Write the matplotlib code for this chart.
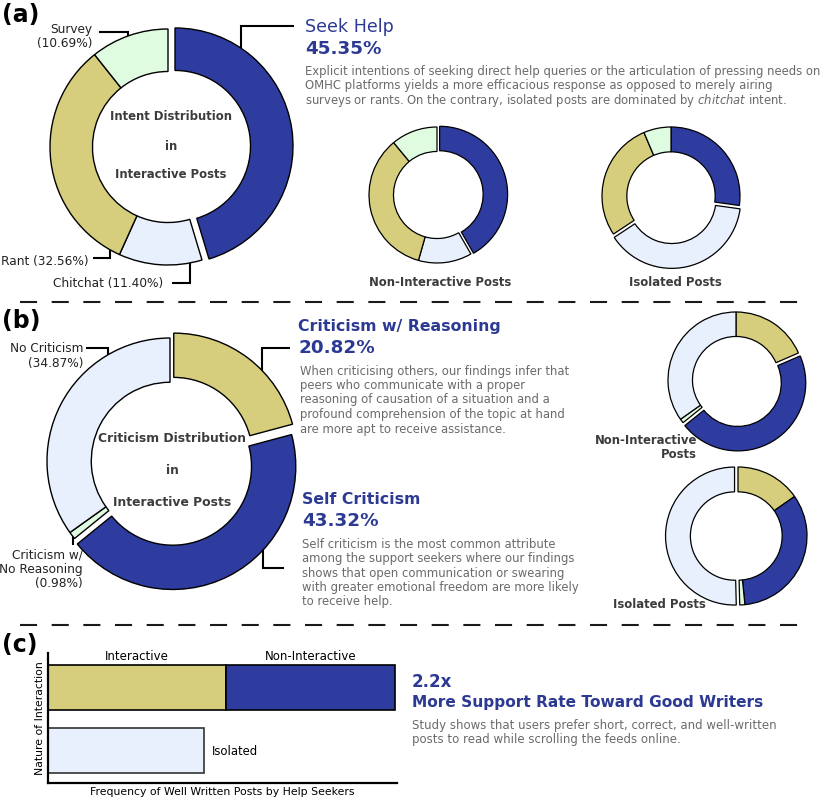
import matplotlib
matplotlib.use('Agg')
import matplotlib.pyplot as plt

W, H = 830, 801

# (a) intent distribution, clockwise from the top
intent_labels = ['Seek Help', 'Chitchat', 'Rant', 'Survey']
intent_interactive = [45.35, 11.40, 32.56, 10.69]
intent_non_interactive = [41.7, 12.7, 34.6, 11.0]
intent_isolated = [27.2, 38.5, 27.9, 6.4]

# (b) criticism distribution, clockwise from the top
crit_labels = ['Criticism w/ Reasoning', 'Self Criticism', 'Criticism w/ No Reasoning', 'No Criticism']
crit_interactive = [20.82, 43.32, 0.98, 34.87]
crit_non_interactive = [18.5, 45.7, 1.0, 34.8]
crit_isolated = [15.3, 33.1, 1.2, 50.4]

# (c) frequency of well written posts
bar_labels = ['Interactive', 'Non-Interactive', 'Isolated']
well_written = [51.0, 48.4, 44.7]
support_rate = '2.2x'

BLUE = '#2e3c9f'
KHAKI = '#d6ce7c'
LBLUE = '#e8f0fd'
LGREEN = '#e0fce0'
TITLE = '#2c3a94'
GREY = '#6b6b6b'
DARK = '#3c3c3c'

intent_colors = [BLUE, LBLUE, KHAKI, LGREEN]
crit_colors = [KHAKI, BLUE, LGREEN, LBLUE]

fig = plt.figure(figsize=(W / 100, H / 100), dpi=100)
canvas = fig.add_axes([0, 0, 1, 1])
canvas.set_xlim(0, W)
canvas.set_ylim(H, 0)
canvas.axis('off')


def txt(x, y, s, **kw):
    canvas.text(x, y, s, va='center', **kw)


def rows(x, y0, step, lines, **kw):
    for i, line in enumerate(lines):
        txt(x, y0 + i * step, line, **kw)


def leader(pts):
    xs = [p[0] for p in pts]
    ys = [p[1] for p in pts]
    canvas.plot(xs, ys, color='black', lw=1.5, solid_capstyle='butt', solid_joinstyle='miter')


def donut(cx, cy, r, vals, cols, explode, lw=1.0, hole=0.64):
    pad = 1.15
    R = r * pad
    ax = fig.add_axes([(cx - R) / W, 1 - (cy + R) / H, 2 * R / W, 2 * R / H])
    ax.pie(vals, colors=cols, startangle=90, counterclock=False, explode=explode,
           wedgeprops=dict(width=1 - hole, edgecolor='black', linewidth=lw))
    ax.set_xlim(-pad, pad)
    ax.set_ylim(-pad, pad)
    ax.axis('off')
    return ax


# dividers
for y in (302, 625):
    canvas.plot([20, 802], [y, y], color='#1a1a1a', lw=1.5, dashes=(8.2, 7.0))

# panel letters
for lab, y in (('(a)', 15), ('(b)', 321), ('(c)', 645)):
    txt(2, y, lab, fontsize=17, fontweight='bold', color='black')

# ---------------- (a) ----------------
donut(168, 147, 118, intent_interactive, intent_colors, [0.06, 0, 0, 0])
donut(437, 195, 68, intent_non_interactive, intent_colors, [0.04, 0, 0, 0], lw=0.9)
donut(671, 196, 69, intent_isolated, intent_colors, [0, 0.05, 0, 0], lw=0.9)

for s, y in (('Intent Distribution', 117), ('in', 147), ('Interactive Posts', 175)):
    txt(171, y, s, ha='center', fontsize=8.4, fontweight='bold', color=DARK)

lab_kw = dict(fontsize=8.7, color='#222222')
rows(92, 29, 14, [intent_labels[3], '(%.2f%%)' % intent_interactive[3]], ha='right', **lab_kw)
txt(89, 261, '%s (%.2f%%)' % (intent_labels[2], intent_interactive[2]), ha='right', **lab_kw)
txt(53, 283, '%s (%.2f%%)' % (intent_labels[1], intent_interactive[1]), ha='left', **lab_kw)
leader([(99, 32), (128, 32), (128, 37)])
leader([(241, 48), (241, 26), (294, 26)])
leader([(93, 258), (110, 258), (110, 248)])
leader([(172, 283), (190, 283), (190, 263)])

txt(305, 27, intent_labels[0], fontsize=12.6, color=TITLE)
txt(305, 49, '%.2f%%' % intent_interactive[0], fontsize=13.2, fontweight='bold', color=TITLE)
rows(305, 71, 14.7, [
    'Explicit intentions of seeking direct help queries or the articulation of pressing needs on',
    'OMHC platforms yields a more efficacious response as opposed to merely airing',
    'surveys or rants. On the contrary, isolated posts are dominated by $\\mathit{chitchat}$ intent.',
], ha='left', fontsize=8.4, color=GREY)

txt(440, 283, 'Non-Interactive Posts', ha='center', fontsize=8.4, fontweight='bold', color=DARK)
txt(675, 283, 'Isolated Posts', ha='center', fontsize=8.4, fontweight='bold', color=DARK)

# ---------------- (b) ----------------
donut(170, 461, 123, crit_interactive, crit_colors, [0.05, 0.05, 0, 0])
donut(736, 380, 68, crit_non_interactive, crit_colors, [0, 0.05, 0, 0], lw=0.9)
donut(738, 536, 69, crit_isolated, crit_colors, [0, 0, 0, 0.05], lw=0.9)

for s, y in (('Criticism Distribution', 438), ('in', 470), ('Interactive Posts', 502)):
    txt(172, y, s, ha='center', fontsize=8.9, fontweight='bold', color=DARK)

rows(83, 348, 15, [crit_labels[3], '(%.2f%%)' % crit_interactive[3]], ha='right', **lab_kw)
rows(83, 555, 14.5, ['Criticism w/', 'No Reasoning', '(%.2f%%)' % crit_interactive[2]], ha='right', **lab_kw)
leader([(86, 348), (108, 348), (108, 357)])
leader([(262, 372), (262, 348), (290, 348)])
leader([(263, 545), (263, 568), (284, 568)])
leader([(73, 533), (73, 545)])

txt(298, 327, crit_labels[0], fontsize=11.3, fontweight='bold', color=TITLE)
txt(298, 348, '%.2f%%' % crit_interactive[0], fontsize=13.2, fontweight='bold', color=TITLE)
rows(300, 371, 14.5, [
    'When criticising others, our findings infer that',
    'peers who communicate with a proper',
    'reasoning of causation of a situation and a',
    'profound comprehension of the topic at hand',
    'are more apt to receive assistance.',
], ha='left', fontsize=8.4, color=GREY)

txt(302, 500, crit_labels[1], fontsize=11.3, fontweight='bold', color=TITLE)
txt(302, 521, '%.2f%%' % crit_interactive[1], fontsize=13.2, fontweight='bold', color=TITLE)
rows(302, 544, 14.5, [
    'Self criticism is the most common attribute',
    'among the support seekers where our findings',
    'shows that open communication or swearing',
    'with greater emotional freedom are more likely',
    'to receive help.',
], ha='left', fontsize=8.4, color=GREY)

rows(697, 441, 14, ['Non-Interactive', 'Posts'], ha='right', fontsize=8.4, fontweight='bold', color=DARK)
txt(706, 604, 'Isolated Posts', ha='right', fontsize=8.4, fontweight='bold', color=DARK)

# ---------------- (c) ----------------
bx = fig.add_axes([48 / W, 1 - 783 / H, 349 / W, 130 / H])
bh = 0.72
bx.barh([1], [well_written[0]], height=bh, color=KHAKI, edgecolor='black', lw=1.2)
bx.barh([1], [well_written[1]], left=[well_written[0]], height=bh, color=BLUE, edgecolor='black', lw=1.2)
bx.barh([0], [well_written[2]], height=bh, color=LBLUE, edgecolor='#333333', lw=1.2)
bx.set_xlim(0, 100)
bx.set_ylim(-0.528, 1.552)
bx.set_xticks([])
bx.set_yticks([])
for side in ('top', 'right'):
    bx.spines[side].set_visible(False)
for side in ('left', 'bottom'):
    bx.spines[side].set_linewidth(1.6)
bx.patch.set_alpha(0)

bx.text(well_written[0] / 2, 1 + bh / 2 + 0.03, bar_labels[0], ha='center', va='bottom', fontsize=8.5)
bx.text(well_written[0] + well_written[1] / 2, 1 + bh / 2 + 0.03, bar_labels[1], ha='center', va='bottom', fontsize=8.5)
bx.text(well_written[2] + 2.3, -0.03, bar_labels[2], ha='left', va='center', fontsize=8.4)
bx.set_ylabel('Nature of Interaction', fontsize=7.8, labelpad=2)
bx.set_xlabel('Frequency of Well Written Posts by Help Seekers', fontsize=7.8, labelpad=3)

txt(412, 682, support_rate, fontsize=12, fontweight='bold', color=TITLE)
txt(412, 702, 'More Support Rate Toward Good Writers', fontsize=11.1, fontweight='bold', color=TITLE)
rows(412, 725, 14, [
    'Study shows that users prefer short, correct, and well-written',
    'posts to read while scrolling the feeds online.',
], ha='left', fontsize=8.5, color=GREY)

fig.savefig('out.png', dpi=100)
